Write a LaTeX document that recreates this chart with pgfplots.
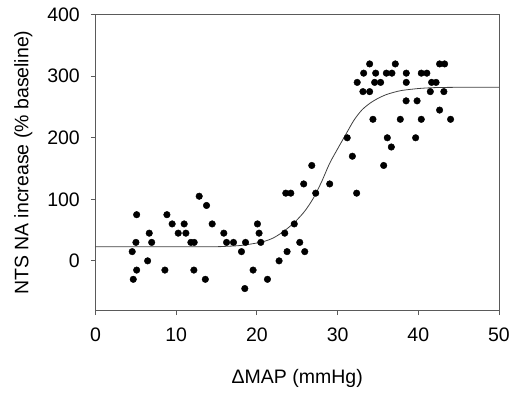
\documentclass[border=0pt]{standalone}
\usepackage{fontspec}
\setmainfont{Liberation Sans}
\usepackage{pgfplots}
\pgfplotsset{compat=1.18}
\definecolor{axisgray}{HTML}{5A5A5A}
\definecolor{curvegray}{HTML}{404040}
\begin{document}
\begin{tikzpicture}
\begin{axis}[
  at={(0,0)}, anchor=south west,
  scale only axis,
  width=403.5bp, height=296bp,
  xmin=0, xmax=50, ymin=-81, ymax=400,
  xtick={0,10,20,30,40,50},
  ytick={0,100,200,300,400},
  xtick pos=bottom, ytick pos=left,
  tick align=outside,
  major tick length=4.5bp,
  axis line style={axisgray, line width=0.9bp},
  tick style={axisgray, line width=0.9bp},
  /pgf/number format/assume math mode=true,
  tick label style={font=\fontsize{19.5bp}{23bp}\selectfont, black},
  xticklabel style={anchor=north, inner sep=0pt, yshift=-12.8bp},
  yticklabel style={anchor=east, inner sep=0pt, xshift=-11bp},
  label style={font=\fontsize{19.5bp}{23bp}\selectfont},
  xlabel={ΔMAP (mmHg)},
  xlabel style={at={(axis description cs:0.5,-0.2443)}, anchor=base},
  ylabel={NTS NA increase (\% baseline)},
  ylabel style={at={(axis description cs:-0.1665,0.5)}, anchor=base},
  clip=false,
]
\addplot[curvegray, line width=0.8bp, smooth] coordinates {
(0,22.8) (14,23) (16,23.5) (18,25) (20,29) (21,32) (22,37) (23,45) (24,55)
(25,67) (26,82) (27,102) (28,128) (29,158) (30,182) (31,205) (32,228)
(33,245) (34,256) (35,264) (36,270) (37,274) (38,277) (40,280) (42,281.5)
(45,282) (50,282)
};
\addplot[only marks, mark=*, mark size=3.3bp, black] coordinates {
(4.55,15) (4.68,-30) (5.10,-15) (5.01,30) (5.10,75) (6.46,0) (6.66,45)
(6.96,30) (8.60,-15) (8.85,75) (9.50,60) (10.25,45) (10.99,60) (11.20,45)
(11.82,30) (12.23,30) (12.19,-15) (12.85,105) (13.76,90) (13.61,-30)
(14.46,60) (15.90,45) (16.24,30) (17.10,30) (18.09,15) (18.50,-45)
(18.59,30) (19.53,-15) (20.07,60) (20.27,45) (20.48,30) (21.31,-30)
(22.75,0) (23.45,45) (23.74,15) (23.58,110) (24.20,110) (24.63,60)
(25.31,30) (25.93,15) (25.80,125) (26.80,155) (27.29,110) (29.02,125)
(31.19,200) (31.83,170) (32.36,110) (34.38,230) (35.71,155) (36.16,200)
(36.66,185) (37.77,230) (38.49,260) (39.85,260) (39.67,200) (40.37,230)
(42.64,245) (44.00,230) (33.14,275) (33.97,275) (41.49,275) (43.17,275)
(32.43,290) (34.59,290) (35.33,290) (38.51,290) (41.65,290) (42.20,290)
(33.23,305) (34.72,305) (36.04,305) (36.73,305) (38.51,305) (40.37,305)
(41.06,305) (33.97,320) (37.15,320) (42.64,320) (43.26,320)
};
\end{axis}
\path (-95.5bp,-85.3bp) rectangle (417.5bp,310.7bp);
\end{tikzpicture}
\end{document}
